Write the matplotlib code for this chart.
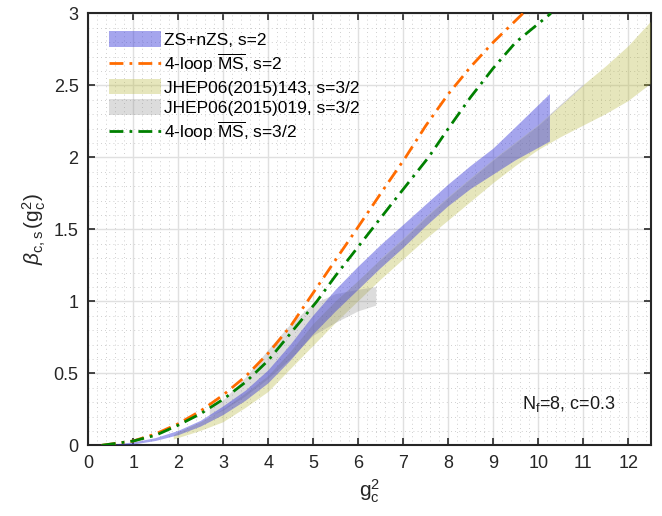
import matplotlib
matplotlib.use("Agg")
import matplotlib.pyplot as plt
import numpy as np
from matplotlib.ticker import MultipleLocator
from matplotlib.patches import Patch
from matplotlib.lines import Line2D

plt.rcParams['font.family'] = ['Liberation Sans', 'DejaVu Sans']
plt.rcParams['mathtext.fontset'] = 'custom'
plt.rcParams['mathtext.rm'] = 'Liberation Sans'
plt.rcParams['mathtext.it'] = 'Liberation Sans:italic'
plt.rcParams['mathtext.bf'] = 'Liberation Sans:bold'

# ZS+nZS, s=2 band
blue_x = [0.4, 1, 1.5, 2, 2.5, 3, 3.5, 4, 4.5, 5, 5.5, 6, 6.5, 7, 7.5, 8, 8.5, 9, 9.5, 10.26]
blue_hi = [0.0, 0.02, 0.05, 0.10, 0.17, 0.27, 0.38, 0.52, 0.70, 0.90, 1.08, 1.24, 1.39,
           1.53, 1.67, 1.81, 1.94, 2.06, 2.21, 2.44]
blue_lo = [0.0, 0.005, 0.03, 0.07, 0.13, 0.21, 0.31, 0.43, 0.59, 0.77, 0.93, 1.08, 1.23,
           1.37, 1.52, 1.66, 1.78, 1.88, 1.98, 2.11]

# JHEP06(2015)143, s=3/2 band
yel_x = [1.9, 2, 2.5, 3, 3.5, 4, 4.5, 5, 5.5, 6, 6.5, 7, 7.5, 8, 8.5, 9, 9.5, 10,
         10.5, 11, 11.5, 12, 12.5]
yel_hi = [0.07, 0.09, 0.16, 0.25, 0.36, 0.48, 0.65, 0.84, 1.0, 1.14, 1.29, 1.43, 1.58,
          1.72, 1.85, 1.98, 2.10, 2.22, 2.36, 2.50, 2.63, 2.77, 2.94]
yel_lo = [0.04, 0.05, 0.10, 0.16, 0.26, 0.37, 0.53, 0.69, 0.85, 1.00, 1.15, 1.29, 1.43,
          1.56, 1.69, 1.82, 1.94, 2.05, 2.14, 2.22, 2.30, 2.39, 2.51]

# JHEP06(2015)019, s=3/2 band
gray_x = [2.7, 3, 3.5, 4, 4.5, 5, 5.5, 6, 6.4]
gray_hi = [0.25, 0.31, 0.47, 0.66, 0.84, 0.98, 1.05, 1.08, 1.10]
gray_lo = [0.20, 0.24, 0.34, 0.46, 0.60, 0.76, 0.85, 0.93, 0.97]

# 4-loop MSbar, s=2
or_x = [0.3, 1, 1.5, 2, 2.5, 3, 3.5, 4, 4.5, 5, 5.5, 5.96, 6.5, 7.05, 7.5, 8.0, 8.5, 9.0, 9.66]
or_y = [0.0, 0.03, 0.08, 0.15, 0.24, 0.35, 0.48, 0.64, 0.83, 1.06, 1.29, 1.5, 1.75, 2.0,
        2.22, 2.44, 2.63, 2.8, 3.0]

# 4-loop MSbar, s=3/2
gr_x = [0.3, 1, 1.5, 2, 2.5, 3, 3.5, 4, 4.5, 5.08, 5.5, 6.0, 6.3, 6.85, 7.56, 8.0, 8.5,
        9.0, 9.5, 10.28]
gr_y = [0.0, 0.03, 0.07, 0.14, 0.22, 0.32, 0.44, 0.59, 0.78, 1.0, 1.18, 1.38, 1.5, 1.72,
        2.0, 2.2, 2.42, 2.62, 2.8, 3.0]

labels = ['ZS+nZS, s=2', r'4-loop $\overline{\mathrm{MS}}$, s=2',
          'JHEP06(2015)143, s=3/2', 'JHEP06(2015)019, s=3/2',
          r'4-loop $\overline{\mathrm{MS}}$, s=3/2']

c_blue = (0.22, 0.22, 0.85)
c_yel = (0.72, 0.72, 0.25)
c_gray = (0.55, 0.55, 0.55)
c_or = (1.0, 0.42, 0.0)
c_gr = (0.0, 0.5, 0.0)
dash = (0, (5, 2.2, 1, 2.2))

fig = plt.figure(figsize=(6.62, 5.16), dpi=100)
ax = fig.add_axes([0.1334, 0.137, 0.983 - 0.1334, 0.974 - 0.137])

ax.fill_between(yel_x, yel_lo, yel_hi, facecolor=c_yel, alpha=0.35,
                edgecolor='none', zorder=3)
ax.fill_between(gray_x, gray_lo, gray_hi, facecolor=c_gray, alpha=0.3,
                edgecolor='none', zorder=3)
ax.fill_between(blue_x, blue_lo, blue_hi, facecolor=c_blue, alpha=0.45,
                edgecolor='none', zorder=3)
ax.plot(yel_x[10:20], yel_hi[10:20], color=(0.7, 0.7, 0.8), lw=0.8, alpha=0.5, zorder=3)
ax.plot(or_x, or_y, color=c_or, lw=2.0, linestyle=dash, zorder=4)
ax.plot(gr_x, gr_y, color=c_gr, lw=2.0, linestyle=dash, zorder=4)

ax.set_xlim(0, 12.5)
ax.set_ylim(0, 3)
ax.xaxis.set_major_locator(MultipleLocator(1))
ax.xaxis.set_minor_locator(MultipleLocator(0.2))
ax.yaxis.set_minor_locator(MultipleLocator(0.1))
ax.set_yticks([0, 0.5, 1, 1.5, 2, 2.5, 3])
ax.set_yticklabels(['0', '0.5', '1', '1.5', '2', '2.5', '3'])
ax.grid(which='major', color=(0.88, 0.88, 0.88), linewidth=1.0, zorder=0)
ax.grid(which='minor', color=(0.75, 0.75, 0.75), linewidth=0.6,
        linestyle=(0, (1, 4)), zorder=0)
ax.set_axisbelow(True)
ax.tick_params(which='major', direction='in', length=5, width=1.2,
               top=True, right=True, labelsize=13, colors=(0.15, 0.15, 0.15), pad=7)
ax.tick_params(which='minor', length=0, top=True, right=True)
for s in ax.spines.values():
    s.set_linewidth(1.5)
    s.set_color((0.15, 0.15, 0.15))

ax.set_xlabel(r'$\mathrm{g}_\mathrm{c}^2$', fontsize=15, color=(0.15, 0.15, 0.15), labelpad=4)
ax.set_ylabel(r'$\beta_\mathrm{c,s}\,(\mathrm{g}_\mathrm{c}^2)$', fontsize=15,
              color=(0.15, 0.15, 0.15), labelpad=4)

ax.text(9.64, 0.25, r'N$_\mathrm{f}$=8, c=0.3', fontsize=13, color=(0.1, 0.1, 0.1), zorder=5)

handles = [
    Patch(facecolor=c_blue, alpha=0.45, edgecolor='none'),
    Line2D([0], [0], color=c_or, lw=2.0, linestyle=dash),
    Patch(facecolor=c_yel, alpha=0.35, edgecolor='none'),
    Patch(facecolor=c_gray, alpha=0.3, edgecolor='none'),
    Line2D([0], [0], color=c_gr, lw=2.0, linestyle=dash),
]
leg = ax.legend(handles, labels, loc='upper left', bbox_to_anchor=(0.025, 0.975),
                frameon=False, fontsize=12.5, handlelength=3.0, handleheight=1.0,
                handletextpad=0.15, labelspacing=0.22, borderaxespad=0.0)

fig.savefig('out.png', dpi=100)
